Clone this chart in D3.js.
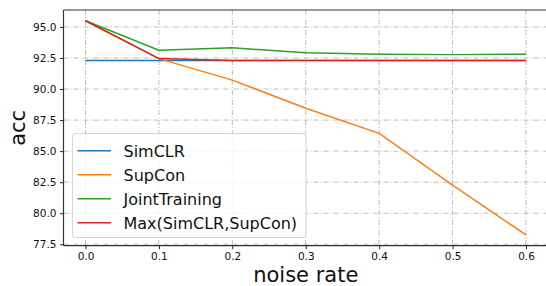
<!DOCTYPE html>
<html>
<head>
<meta charset="utf-8">
<script src="https://cdn.jsdelivr.net/npm/d3@7"></script>
<style>
  body { margin: 0; background: #fff; }
  svg { display: block; font-family: "DejaVu Sans", sans-serif; }
</style>
</head>
<body>
<div id="chart"></div>
<script>
const noiseRates = [0.0, 0.1, 0.2, 0.3, 0.4, 0.5, 0.6];
const simclr = [92.3, 92.3, 92.3, 92.3, 92.3, 92.3, 92.3];
const supcon = [95.5, 92.45, 90.72, 88.45, 86.43, 82.27, 78.25];
const jointTraining = [95.5, 93.13, 93.32, 92.92, 92.8, 92.77, 92.8];
const maxSimSup = [95.5, 92.45, 92.3, 92.3, 92.3, 92.3, 92.3];

const seriesNames = ["SimCLR", "SupCon", "JointTraining", "Max(SimCLR,SupCon)"];
const seriesValues = [simclr, supcon, jointTraining, maxSimSup];
const colors = ["#1f77b4", "#ff7f0e", "#2ca02c", "#d62728"];

const xTicks = [0.0, 0.1, 0.2, 0.3, 0.4, 0.5, 0.6];
const yTicks = [77.5, 80.0, 82.5, 85.0, 87.5, 90.0, 92.5, 95.0];

const width = 546;
const height = 286;
const plot = { left: 63.5, right: 548, top: 10, bottom: 245.7 };

const svg = d3
  .select("#chart")
  .append("svg")
  .attr("width", width)
  .attr("height", height);

// matplotlib-style 5% margins
const xScale = d3.scaleLinear().domain([-0.03, 0.63]).range([plot.left, plot.right]);
const yScale = d3
  .scaleLinear()
  .domain([77.3875, 96.3625])
  .range([plot.bottom, plot.top]);

// grid
const grid = svg.append("g").attr("class", "grid");
grid
  .selectAll(".vgrid")
  .data(xTicks)
  .enter()
  .append("line")
  .attr("x1", (d) => xScale(d))
  .attr("x2", (d) => xScale(d))
  .attr("y1", plot.top)
  .attr("y2", plot.bottom)
  .style("stroke", "#bdbdbd")
  .style("stroke-width", 1)
  .style("stroke-dasharray", "5,2,1,2");
grid
  .selectAll(".hgrid")
  .data(yTicks)
  .enter()
  .append("line")
  .attr("x1", plot.left)
  .attr("x2", plot.right)
  .attr("y1", (d) => yScale(d))
  .attr("y2", (d) => yScale(d))
  .style("stroke", "#bdbdbd")
  .style("stroke-width", 1)
  .style("stroke-dasharray", "5,2,1,2");

// lines
const line = d3
  .line()
  .x((d, i) => xScale(noiseRates[i]))
  .y((d) => yScale(d));

seriesValues.forEach((vals, i) => {
  svg
    .append("path")
    .datum(vals)
    .attr("d", line)
    .style("fill", "none")
    .style("stroke", colors[i])
    .style("stroke-width", 1.5);
});

// axes
const xAxis = d3
  .axisBottom(xScale)
  .tickValues(xTicks)
  .tickFormat(d3.format(".1f"))
  .tickSizeInner(3.5)
  .tickSizeOuter(0)
  .tickPadding(3);
const yAxis = d3
  .axisLeft(yScale)
  .tickValues(yTicks)
  .tickFormat(d3.format(".1f"))
  .tickSizeInner(3.5)
  .tickSizeOuter(0)
  .tickPadding(3.5);

const gx = svg
  .append("g")
  .attr("transform", `translate(0, ${plot.bottom})`)
  .call(xAxis);
const gy = svg
  .append("g")
  .attr("transform", `translate(${plot.left}, 0)`)
  .call(yAxis);

[gx, gy].forEach((g) => {
  g.select(".domain").remove();
  g.selectAll(".tick line").style("stroke", "#222").style("stroke-width", 1);
  g.selectAll(".tick text")
    .style("font-family", "DejaVu Sans")
    .style("font-size", "10.5px")
    .style("fill", "#111");
});

// spines
svg
  .append("line")
  .attr("x1", plot.left)
  .attr("x2", plot.left)
  .attr("y1", plot.top)
  .attr("y2", plot.bottom)
  .style("stroke", "#333")
  .style("stroke-width", 1.2);
svg
  .append("line")
  .attr("x1", plot.left)
  .attr("x2", plot.right)
  .attr("y1", plot.bottom)
  .attr("y2", plot.bottom)
  .style("stroke", "#333")
  .style("stroke-width", 1.2);
svg
  .append("line")
  .attr("x1", plot.left)
  .attr("x2", plot.right)
  .attr("y1", plot.top)
  .attr("y2", plot.top)
  .style("stroke", "#333")
  .style("stroke-width", 1.2);

// axis labels
svg
  .append("text")
  .attr("x", (plot.left + plot.right) / 2)
  .attr("y", 282)
  .style("text-anchor", "middle")
  .style("font-size", "21px")
  .style("fill", "#111")
  .text("noise rate");

svg
  .append("text")
  .attr("transform", `translate(25, ${(plot.top + plot.bottom) / 2}) rotate(-90)`)
  .style("text-anchor", "middle")
  .style("font-size", "21px")
  .style("fill", "#111")
  .text("acc");

// legend
const legend = svg.append("g").attr("transform", "translate(72.5, 133.5)");
legend
  .append("rect")
  .attr("width", 233.5)
  .attr("height", 104)
  .attr("rx", 3)
  .style("fill", "rgba(255,255,255,0.8)")
  .style("stroke", "#d6d6d6")
  .style("stroke-width", 1);

seriesNames.forEach((name, i) => {
  const y = 17.2 + i * 24;
  legend
    .append("line")
    .attr("x1", 5)
    .attr("x2", 38.5)
    .attr("y1", y)
    .attr("y2", y)
    .style("stroke", colors[i])
    .style("stroke-width", 1.5);
  legend
    .append("text")
    .attr("x", 51)
    .attr("y", y + 5.8)
    .style("font-size", "16px")
    .style("fill", "#111")
    .text(name);
});
</script>
</body>
</html>
